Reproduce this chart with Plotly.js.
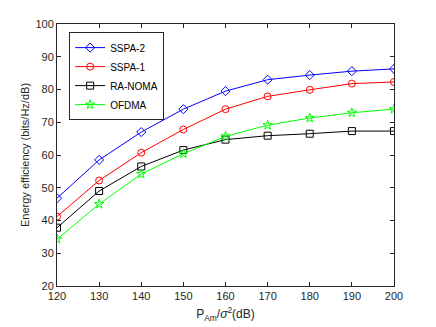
<!DOCTYPE html>
<html>
<head>
<meta charset="utf-8">
<script src="https://cdn.plot.ly/plotly-3.0.1.min.js"></script>
<style>
  html, body { margin: 0; padding: 0; background: #fff; }
  #chart { width: 436px; height: 327px; }
</style>
</head>
<body>
<div id="chart"></div>
<script>
// power levels P_Am / sigma^2 in dB
const powerDb = [120, 130, 140, 150, 160, 170, 180, 190, 200];

// energy efficiency (bits/Hz/dB)
const sspa2 = [46.8, 58.5, 67.0, 74.0, 79.5, 83.0, 84.4, 85.6, 86.3];
const sspa1 = [41.2, 52.2, 60.7, 67.8, 74.0, 77.9, 79.9, 81.8, 82.3];
const raNoma = [37.8, 49.0, 56.5, 61.5, 64.7, 65.9, 66.5, 67.3, 67.3];
const ofdma = [34.3, 45.0, 54.2, 60.4, 65.7, 69.1, 71.3, 72.9, 74.0];

const seriesNames = ['SSPA-2', 'SSPA-1', 'RA-NOMA', 'OFDMA'];
const xTicks = [120, 130, 140, 150, 160, 170, 180, 190, 200];
const yTicks = [20, 30, 40, 50, 60, 70, 80, 90, 100];

const axisColor = '#262626';

function trace(name, y, color, symbol) {
    return {
        x: powerDb,
        y: y,
        name: name,
        type: 'scatter',
        mode: 'lines+markers',
        line: { color: color, width: 1 },
        marker: { symbol: symbol, size: 7, color: color, line: { color: color, width: 1 } }
    };
}

const traces = [
    trace(seriesNames[0], sspa2, '#0000ff', 'diamond-open'),
    trace(seriesNames[1], sspa1, '#ff0000', 'circle-open'),
    trace(seriesNames[2], raNoma, '#000000', 'square-open'),
    trace(seriesNames[3], ofdma, '#00ff00', 'star-open')
];

const font = { family: 'Liberation Sans, Arial, sans-serif', size: 11, color: axisColor };

const layout = {
    width: 436,
    height: 327,
    margin: { l: 57, r: 42, t: 24, b: 41 },
    paper_bgcolor: '#ffffff',
    plot_bgcolor: '#ffffff',
    font: font,
    showlegend: true,
    legend: {
        x: 0.036, y: 0.969, xanchor: 'left', yanchor: 'top',
        bgcolor: '#ffffff',
        bordercolor: axisColor,
        borderwidth: 1,
        font: { family: font.family, size: 10, color: '#000000' },
        tracegroupgap: 0,
        itemwidth: 30
    },
    xaxis: {
        range: [120, 200],
        tickvals: xTicks,
        ticks: 'inside',
        ticklen: 4,
        tickcolor: axisColor,
        showline: true,
        linecolor: axisColor,
        linewidth: 1,
        mirror: 'allticks',
        showgrid: false,
        zeroline: false,
        title: { text: 'P<sub>Am</sub>/<i>σ</i><sup>2</sup>(dB)', font: { size: 12, color: axisColor }, standoff: 8 }
    },
    yaxis: {
        range: [20, 100],
        tickvals: yTicks,
        ticks: 'inside',
        ticklen: 4,
        tickcolor: axisColor,
        showline: true,
        linecolor: axisColor,
        linewidth: 1,
        mirror: 'allticks',
        showgrid: false,
        zeroline: false,
        title: { text: 'Energy efficiency (bits/Hz/dB)', font: { size: 11, color: axisColor }, standoff: 3 }
    }
};

Plotly.newPlot('chart', traces, layout, { displayModeBar: false, staticPlot: true });
</script>
</body>
</html>
